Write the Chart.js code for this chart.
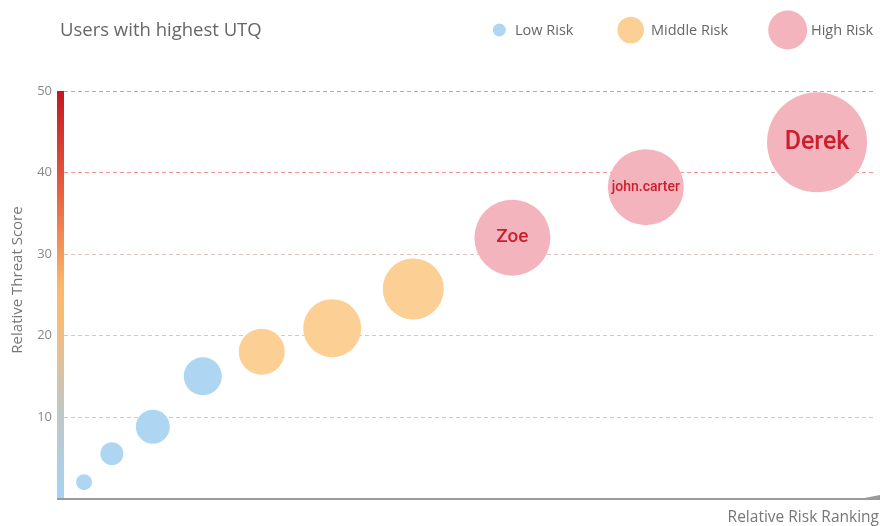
<!DOCTYPE html>
<html><head><meta charset="utf-8">
<script src="https://cdn.jsdelivr.net/npm/chart.js@4"></script>
<style>html,body{margin:0;padding:0;background:#fff}#wrap{width:880px;height:526px;position:relative}</style>
</head><body><div id="wrap"><canvas id="c" width="880" height="526"></canvas></div>
<script>
// ---- data ----
const userNames    = ['', '', '', '', '', '', '', 'Zoe', 'john.carter', 'Derek'];
const riskRanking  = [3.3, 6.7, 11.7, 17.8, 25.0, 33.6, 43.5, 55.6, 71.9, 92.8];
const threatScore  = [2, 5.5, 8.8, 15, 18, 20.9, 25.7, 32, 38.2, 43.7];
const bubbleSize   = [8, 11.5, 17, 19, 23, 29, 30.5, 38, 38, 50];
const riskLevel    = ['Low','Low','Low','Low','Middle','Middle','Middle','High','High','High'];
const riskCategories = ['Low', 'Middle', 'High'];
const legendLabels = ['Low Risk', 'Middle Risk', 'High Risk'];
const yTickValues  = [0, 10, 20, 30, 40, 50];
const chartTitle   = 'Users with highest UTQ';
const yAxisTitle   = 'Relative Threat Score';
const xAxisTitle   = 'Relative Risk Ranking';

// ---- styles ----
const riskColors = { Low: '#aed6f2', Middle: '#fccf94', High: '#f4b4be' };
const labelFont = { 'Zoe': 19, 'john.carter': 14, 'Derek': 25 };
const legendRadius = [6.5, 13.3, 19.5];
const legendDotX = [499.3, 630.7, 787.7];
const legendTextX = [515, 651, 811];
const FONT = '"Open Sans", Roboto, sans-serif';
const LFONT = 'Roboto, "Open Sans", sans-serif';

const datasets = riskCategories.map(cat => {
  const pts = [];
  riskLevel.forEach((lvl, i) => {
    if (lvl === cat) pts.push({ x: riskRanking[i], y: threatScore[i], r: bubbleSize[i], name: userNames[i] });
  });
  return {
    label: legendLabels[riskCategories.indexOf(cat)],
    data: pts,
    backgroundColor: riskColors[cat],
    borderWidth: 0,
    hoverBorderWidth: 0,
    hoverRadius: 0,
    clip: false
  };
});

const decor = {
  id: 'decor',
  beforeDraw(chart) {
    const ctx = chart.ctx;
    ctx.save();
    ctx.fillStyle = '#fff';
    ctx.fillRect(0, 0, chart.width, chart.height);
    ctx.restore();
  },
  afterDraw(chart) {
    const ctx = chart.ctx;
    const a = chart.chartArea;
    ctx.save();
    // gradient axis bar
    const g = ctx.createLinearGradient(0, a.bottom, 0, a.top);
    g.addColorStop(0, '#a6d2f3');
    g.addColorStop(0.22, '#c2c7c4');
    g.addColorStop(0.42, '#f5bd7c');
    g.addColorStop(0.52, '#fcb86a');
    g.addColorStop(0.75, '#e8613f');
    g.addColorStop(1, '#c4161f');
    ctx.fillStyle = g;
    ctx.fillRect(a.left, a.top, 7, a.bottom - a.top);
    // x axis line + arrow
    ctx.strokeStyle = '#9a9a9a';
    ctx.lineWidth = 2;
    ctx.beginPath();
    ctx.moveTo(a.left, a.bottom + 0.5);
    ctx.lineTo(chart.width - 4, a.bottom + 0.5);
    ctx.stroke();
    ctx.fillStyle = '#9a9a9a';
    ctx.beginPath();
    ctx.moveTo(854, a.bottom + 1.5);
    ctx.lineTo(880, a.bottom - 3.5);
    ctx.lineTo(880, a.bottom + 1.5);
    ctx.closePath();
    ctx.fill();

    // bubble labels
    chart.data.datasets.forEach((ds, di) => {
      const meta = chart.getDatasetMeta(di);
      ds.data.forEach((p, i) => {
        if (!p.name) return;
        const el = meta.data[i];
        ctx.fillStyle = '#cc1f2d';
        ctx.font = '500 ' + labelFont[p.name] + 'px ' + LFONT;
        ctx.textAlign = 'center';
        ctx.textBaseline = 'middle';
        ctx.fillText(p.name, el.x, el.y);
      });
    });

    // title
    ctx.fillStyle = '#666';
    ctx.font = '18.5px ' + FONT;
    ctx.textAlign = 'left';
    ctx.textBaseline = 'middle';
    ctx.fillText(chartTitle, 60, 31);

    // legend
    ctx.font = '14.5px ' + FONT;
    chart.data.datasets.forEach((ds, i) => {
      ctx.fillStyle = ds.backgroundColor;
      ctx.beginPath();
      ctx.arc(legendDotX[i], 30, legendRadius[i], 0, Math.PI * 2);
      ctx.fill();
      ctx.fillStyle = '#666';
      ctx.textAlign = 'left';
      ctx.fillText(ds.label, legendTextX[i], 30.5);
    });

    // axis titles
    ctx.fillStyle = '#777';
    ctx.font = '15.5px ' + FONT;
    ctx.textAlign = 'right';
    ctx.textBaseline = 'middle';
    ctx.fillText(xAxisTitle, 879, 518);
    ctx.font = '15px ' + FONT;
    ctx.translate(17.5, 280);
    ctx.rotate(-Math.PI / 2);
    ctx.textAlign = 'center';
    ctx.fillText(yAxisTitle, 0, 0);
    ctx.restore();
  }
};

new Chart(document.getElementById('c'), {
  type: 'bubble',
  data: { datasets },
  plugins: [decor],
  options: {
    responsive: false,
    devicePixelRatio: 1,
    animation: false,
    events: [],
    layout: { autoPadding: false, padding: { top: 91, right: 4, left: 0, bottom: 27.5 } },
    plugins: { legend: { display: false }, tooltip: { enabled: false }, title: { display: false } },
    scales: {
      x: { type: 'linear', min: 0, max: 100, display: false },
      y: {
        type: 'linear', min: 0, max: 50,
        afterFit(s) { s.width = 57; },
        afterBuildTicks(s) { s.ticks = yTickValues.map(v => ({ value: v })); },
        ticks: {
          color: '#888', font: { family: FONT, size: 13 }, padding: 5,
          callback: v => (v === 0 ? '' : String(v))
        },
        grid: {
          drawTicks: false,
          lineWidth: 1,
          color: c => {
            const v = c.tick ? c.tick.value : 0;
            if (v >= 40) return 'rgba(240,120,120,0.8)';
            if (v >= 30) return 'rgba(215,185,185,0.9)';
            if (v > 0) return '#cccccc';
            return 'rgba(0,0,0,0)';
          }
        },
        border: { display: false, dash: [4, 3] }
      }
    }
  }
});
</script>
</body></html>
